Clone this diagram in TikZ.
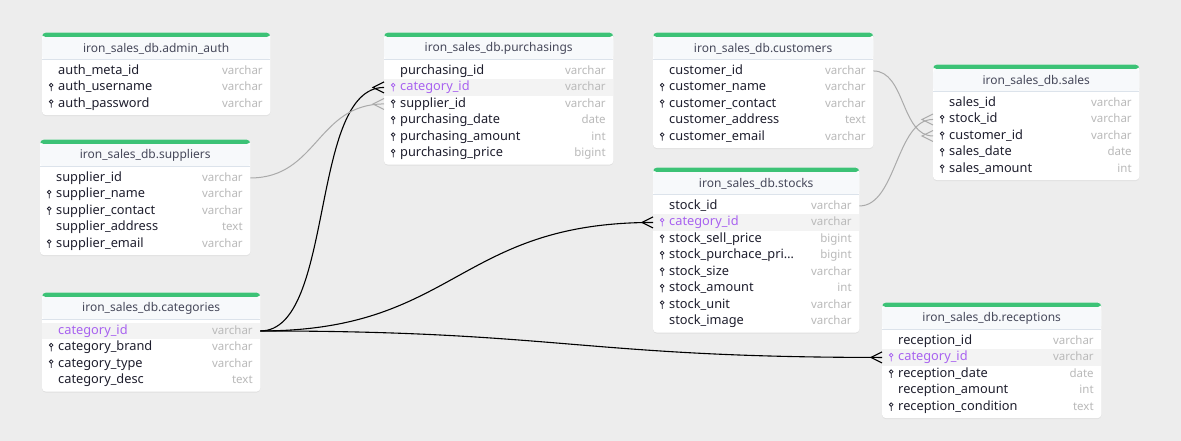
\documentclass[tikz,border=0pt]{standalone}
\usepackage{fontspec}
\setmainfont{Noto Sans}
\usetikzlibrary{matrix,positioning,fit,shadows}
\definecolor{bggray}{RGB}{237,237,237}
\definecolor{dbgreen}{RGB}{60,194,118}
\definecolor{hdrbg}{RGB}{247,249,251}
\definecolor{hdrline}{RGB}{220,227,235}
\definecolor{ink}{RGB}{30,30,45}
\definecolor{hdrink}{RGB}{70,72,90}
\definecolor{typgray}{RGB}{185,185,185}
\definecolor{hlgray}{RGB}{243,243,243}
\definecolor{catpurple}{RGB}{168,98,240}
\definecolor{linkgray}{RGB}{170,170,170}

\pgfdeclarelayer{cards}
\pgfsetlayers{cards,main}

\newcommand\fldfont{\fontsize{12.8}{15}\selectfont}
\newcommand\hdrfont{\fontsize{12}{14}\selectfont}
\newcommand\typfont{\fontsize{11.5}{13}\selectfont}
\newcommand\fld[2]{\hspace*{16pt}#1\hspace{0pt plus 1filll}{\color{typgray}\typfont #2}\hspace*{7.5pt}}
\newcommand\dbcard[2]{%
  \node[hdr,above=2.5pt of #1] (#1-t) {#2};
  \coordinate (#1-top) at ([yshift=4.5pt]#1-t.north);
  \coordinate (#1-bot) at ([yshift=-2.8pt]#1.south);
  \begin{pgfonlayer}{cards}
    \node[card,fit=(#1) (#1-top) (#1-bot)] (#1-card) {};
  \end{pgfonlayer}}

\tikzset{crow/.pic={\draw (0,-5.5) -- (-11,0) -- (0,5.5);}}

\begin{document}
\begin{tikzpicture}[x=1pt,y=-1pt,
  tbl/.style={matrix of nodes,anchor=north west,inner sep=0pt,row sep=0pt,
    nodes={fldrow,text width=#1}},
  fldrow/.style={inner sep=0pt,minimum height=16.5pt,text height=9.5pt,text depth=3pt,
    font=\fldfont,text=ink},
  keyicon/.style={path picture={\draw[#1,line width=0.8pt]
      ([xshift=9pt,yshift=2.3pt]path picture bounding box.west) circle (1.8pt)
      ([xshift=9pt,yshift=0.5pt]path picture bounding box.west) -- ++(0,4.3);}},
  pk/.style={keyicon=ink},
  hl/.style={fill=hlgray,text=catpurple},
  hlk/.style={hl,keyicon=catpurple},
  hdr/.style={minimum height=22.5pt,inner sep=0pt,font=\hdrfont,text=hdrink},
  card/.style={fill=white,rounded corners=4pt,inner sep=0pt,
    drop shadow={opacity=0.12,shadow xshift=0pt,shadow yshift=-1pt},
    path picture={
      \fill[dbgreen] (path picture bounding box.north west) rectangle ([yshift=-4.5pt]path picture bounding box.north east);
      \fill[hdrbg] ([yshift=-4.5pt]path picture bounding box.north west) rectangle ([yshift=-27pt]path picture bounding box.north east);
      \draw[hdrline,line width=1.5pt] ([yshift=-27pt]path picture bounding box.north west) -- ([yshift=-27pt]path picture bounding box.north east);}},
  fkdark/.style={black,line width=1.1pt},
  fklight/.style={linkgray,line width=1pt}]

  \begin{pgfonlayer}{cards}
    \fill[bggray] (0,0) rectangle (1181,441);
  \end{pgfonlayer}
  \useasboundingbox (0,0) rectangle (1181,441);

  % left column
  \matrix[tbl=228pt] (admin) at (42,62.5) {
    \fld{auth\_meta\_id}{varchar}\\
    |[pk]| \fld{auth\_username}{varchar}\\
    |[pk]| \fld{auth\_password}{varchar}\\
  };
  \dbcard{admin}{iron\_sales\_db.admin\_auth}

  \matrix[tbl=210pt] (supp) at (40,169.5) {
    \fld{supplier\_id}{varchar}\\
    |[pk]| \fld{supplier\_name}{varchar}\\
    |[pk]| \fld{supplier\_contact}{varchar}\\
    \fld{supplier\_address}{text}\\
    |[pk]| \fld{supplier\_email}{varchar}\\
  };
  \dbcard{supp}{iron\_sales\_db.suppliers}

  \matrix[tbl=218pt] (cat) at (42,322.5) {
    |[hl]| \fld{category\_id}{varchar}\\
    |[pk]| \fld{category\_brand}{varchar}\\
    |[pk]| \fld{category\_type}{varchar}\\
    \fld{category\_desc}{text}\\
  };
  \dbcard{cat}{iron\_sales\_db.categories}

  % middle
  \matrix[tbl=229pt] (purch) at (384,62.5) {
    \fld{purchasing\_id}{varchar}\\
    |[hlk]| \fld{category\_id}{varchar}\\
    |[pk]| \fld{supplier\_id}{varchar}\\
    |[pk]| \fld{purchasing\_date}{date}\\
    |[pk]| \fld{purchasing\_amount}{int}\\
    |[pk]| \fld{purchasing\_price}{bigint}\\
  };
  \dbcard{purch}{iron\_sales\_db.purchasings}

  \matrix[tbl=220pt] (cust) at (653,62.5) {
    \fld{customer\_id}{varchar}\\
    |[pk]| \fld{customer\_name}{varchar}\\
    |[pk]| \fld{customer\_contact}{varchar}\\
    \fld{customer\_address}{text}\\
    |[pk]| \fld{customer\_email}{varchar}\\
  };
  \dbcard{cust}{iron\_sales\_db.customers}

  \matrix[tbl=206pt] (stock) at (653,197.5) {
    \fld{stock\_id}{varchar}\\
    |[hlk]| \fld{category\_id}{varchar}\\
    |[pk]| \fld{stock\_sell\_price}{bigint}\\
    |[pk]| \fld{stock\_purchace\_pri…}{bigint}\\
    |[pk]| \fld{stock\_size}{varchar}\\
    |[pk]| \fld{stock\_amount}{int}\\
    |[pk]| \fld{stock\_unit}{varchar}\\
    \fld{stock\_image}{varchar}\\
  };
  \dbcard{stock}{iron\_sales\_db.stocks}

  % right column
  \matrix[tbl=206pt] (sales) at (933,94.5) {
    \fld{sales\_id}{varchar}\\
    |[pk]| \fld{stock\_id}{varchar}\\
    |[pk]| \fld{customer\_id}{varchar}\\
    |[pk]| \fld{sales\_date}{date}\\
    |[pk]| \fld{sales\_amount}{int}\\
  };
  \dbcard{sales}{iron\_sales\_db.sales}

  \matrix[tbl=219pt] (recep) at (882,332.5) {
    \fld{reception\_id}{varchar}\\
    |[hlk]| \fld{category\_id}{varchar}\\
    |[pk]| \fld{reception\_date}{date}\\
    \fld{reception\_amount}{int}\\
    |[pk]| \fld{reception\_condition}{text}\\
  };
  \dbcard{recep}{iron\_sales\_db.receptions}

  % links from categories
  \draw[fkdark] (cat-1-1.east) .. controls +(75,0) and +(-75,0) .. (purch-2-1.west);
  \draw[fkdark] (cat-1-1.east) .. controls +(196,0) and +(-196,0) .. (stock-2-1.west);
  \draw[fkdark] (cat-1-1.east) .. controls +(300,0) and +(-300,0) .. (recep-2-1.west);
  \pic[fkdark] at (purch-2-1.west) {crow};
  \pic[fkdark] at (stock-2-1.west) {crow};
  \pic[fkdark] at (recep-2-1.west) {crow};

  % other links
  \draw[fklight] (supp-1-1.east) .. controls +(67,0) and +(-67,0) .. (purch-3-1.west);
  \draw[fklight] (cust-1-1.east) .. controls +(32,0) and +(-32,0) .. (sales-3-1.west);
  \draw[fklight] (stock-1-1.east) .. controls +(37,0) and +(-37,0) .. (sales-2-1.west);
  \pic[fklight] at (purch-3-1.west) {crow};
  \pic[fklight] at (sales-3-1.west) {crow};
  \pic[fklight] at (sales-2-1.west) {crow};

\end{tikzpicture}
\end{document}
